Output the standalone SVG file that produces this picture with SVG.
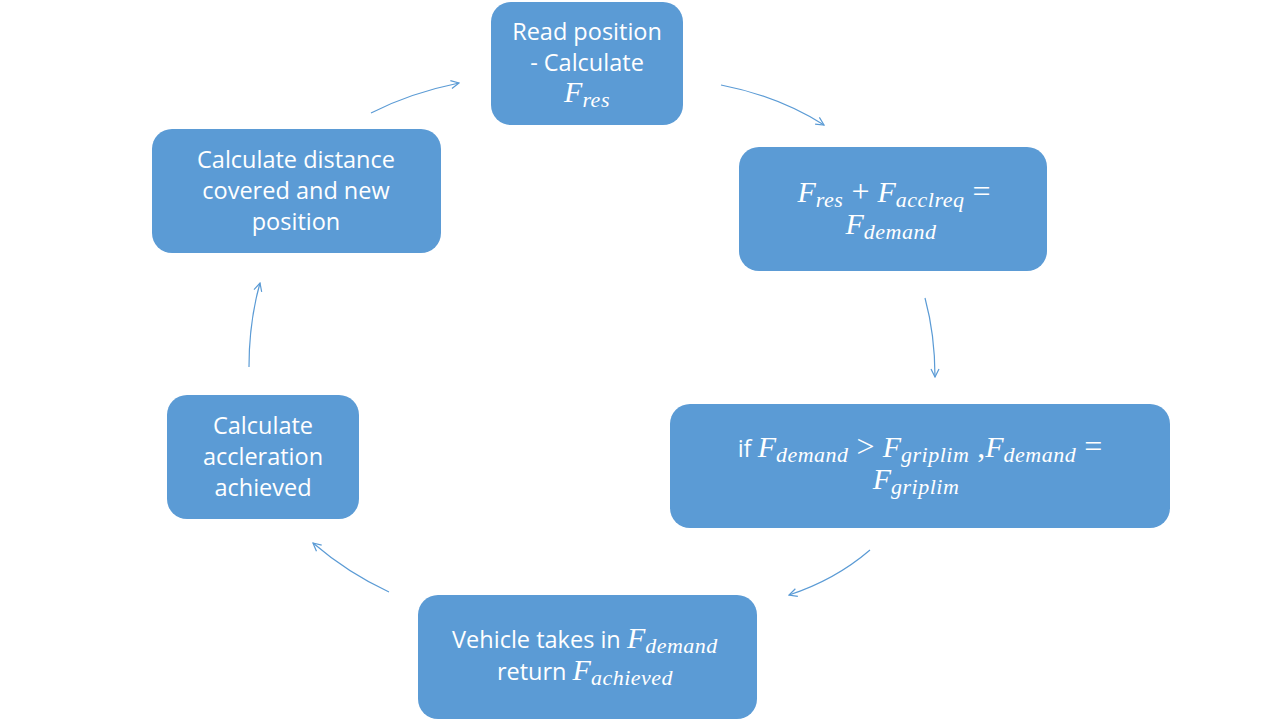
<svg xmlns="http://www.w3.org/2000/svg" width="1280" height="720" viewBox="0 0 1280 720">
<defs>
<style>
.box{fill:#5B9BD5;}
.t{font-family:"Open Sans","Liberation Sans",sans-serif;font-size:23.5px;fill:#fff;text-anchor:middle;}
.m{font-family:"Liberation Serif","DejaVu Serif",serif;font-style:italic;font-size:30px;}
.s{font-family:"Liberation Serif","DejaVu Serif",serif;font-style:italic;font-size:22px;letter-spacing:0.5px;}
.o{font-family:"Liberation Serif","DejaVu Serif",serif;font-size:32px;}
.c{fill:none;stroke:#5B9BD5;stroke-width:1.2;marker-end:url(#ah);}
</style>
<marker id="ah" viewBox="0 0 10 10" refX="9" refY="5" markerWidth="10" markerHeight="10" markerUnits="userSpaceOnUse" orient="auto">
<path d="M1,1 L9,5 L1,9" fill="none" stroke="#5B9BD5" stroke-width="1.2"/>
</marker>
</defs>
<rect width="1280" height="720" fill="#fff"/>
<g id="connectors">
<path class="c" d="M371,113 Q410,93 459,83"/>
<path class="c" d="M721,85 Q778,96 824,125"/>
<path class="c" d="M925,298 Q935,335 935,377"/>
<path class="c" d="M870,550 Q835,580 789,595"/>
<path class="c" d="M389,592 Q348,573 313,543"/>
<path class="c" d="M249,367 Q249,322 260,283"/>
</g>
<g id="n1">
<rect class="box" x="491" y="2" width="192" height="123" rx="20"/>
<text class="t" x="587" y="40">Read position</text>
<text class="t" x="587" y="71">- Calculate</text>
<text class="t" x="587" y="102"><tspan class="m">F</tspan><tspan class="s" dy="5">res</tspan></text>
</g>
<g id="n2">
<rect class="box" x="739" y="147" width="308" height="124" rx="20"/>
<text class="t" x="894" y="202"><tspan class="m">F</tspan><tspan class="s" dy="5">res</tspan><tspan class="o" dy="-5"> + </tspan><tspan class="m">F</tspan><tspan class="s" dy="5">acclreq</tspan><tspan class="o" dy="-5"> =</tspan></text>
<text class="t" x="891" y="234"><tspan class="m">F</tspan><tspan class="s" dy="5">demand</tspan></text>
</g>
<g id="n3">
<rect class="box" x="670" y="404" width="500" height="124" rx="20"/>
<text class="t" x="920" y="457">if <tspan class="m">F</tspan><tspan class="s" dy="5">demand</tspan><tspan class="o" dy="-5"> &gt; </tspan><tspan class="m">F</tspan><tspan class="s" dy="5">griplim</tspan><tspan class="o" dy="-5"> ,</tspan><tspan class="m">F</tspan><tspan class="s" dy="5">demand</tspan><tspan class="o" dy="-5"> =</tspan></text>
<text class="t" x="916" y="489"><tspan class="m">F</tspan><tspan class="s" dy="5">griplim</tspan></text>
</g>
<g id="n4">
<rect class="box" x="418" y="595" width="339" height="124" rx="20"/>
<text class="t" x="585" y="648">Vehicle takes in <tspan class="m">F</tspan><tspan class="s" dy="5">demand</tspan></text>
<text class="t" x="585" y="680">return <tspan class="m">F</tspan><tspan class="s" dy="5">achieved</tspan></text>
</g>
<g id="n5">
<rect class="box" x="167" y="395" width="192" height="124" rx="20"/>
<text class="t" x="263" y="434">Calculate</text>
<text class="t" x="263" y="465">accleration</text>
<text class="t" x="263" y="496">achieved</text>
</g>
<g id="n6">
<rect class="box" x="152" y="129" width="289" height="124" rx="20"/>
<text class="t" x="296" y="168">Calculate distance</text>
<text class="t" x="296" y="199">covered and new</text>
<text class="t" x="296" y="230">position</text>
</g>
</svg>
